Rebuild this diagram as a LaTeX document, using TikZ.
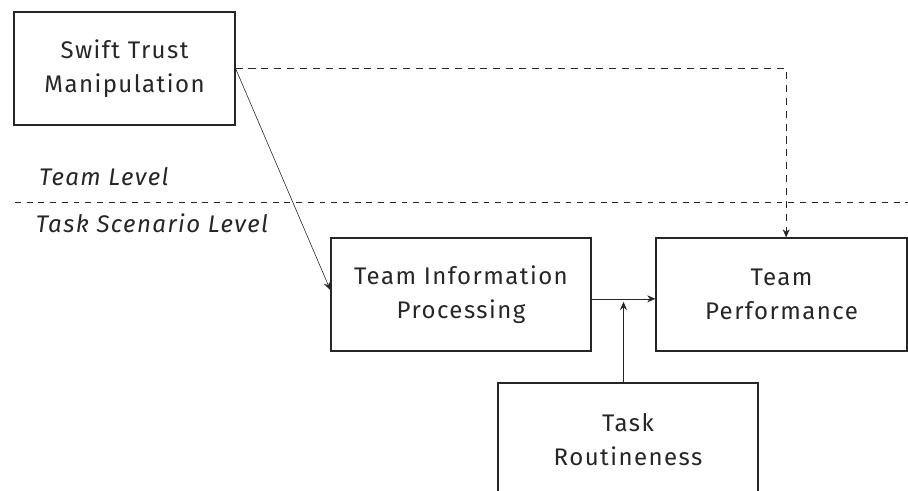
\documentclass[tikz,border=0pt]{standalone}
\usepackage{fontspec}
\setmainfont{Fira Sans}[LetterSpace=6]
\usetikzlibrary{arrows.meta, calc}

\tikzset{
	factor/.style={draw=black!85, line width=1pt, minimum width=\boxW cm, minimum height=\boxH cm, align=center, text=black!85, inner sep=0pt},
	link/.style={draw=black!85, line width=0.5pt, -{Stealth[length=7pt, width=6pt]}},
	level/.style={anchor=west, text=black!85, font=\fontsize{20.5}{29}\selectfont\itshape}
}

\begin{document}
\begin{tikzpicture}[font=\fontsize{20.5}{29}\selectfont]
	% Define box sizes
	\def\boxW{7.8}
	\def\boxH{3.39}

	% Fix the page size
	\useasboundingbox (0,0) rectangle (27.24,14.73);

	% Draw the boxes
	\node[factor, minimum width=6.63cm] (swift) at (3.735,12.675) {Swift Trust\\Manipulation};
	\node[factor] (info) at (13.83,5.895) {Team Information\\Processing};
	\node[factor, minimum width=7.53cm] (perf) at (23.445,5.895) {Team\\Performance};
	\node[factor] (routine) at (18.84,1.545) {Task\\Routineness};

	% Level separator and annotations
	\draw[black!85, line width=0.5pt, dash pattern=on 5pt off 5pt] (0.45,8.67) -- (27.24,8.67);
	\node[level] (teamlvl) at (1.05,9.42) {Team Level};
	\node[level] (tasklvl) at (0.95,8.04) {Task Scenario Level};

	% Direct effect (dashed)
	\draw[link, dash pattern=on 6pt off 5pt] (swift.east) -| ([xshift=0.14cm]perf.north);

	% Swift trust to information processing
	\draw[link] (swift.east) -- ([yshift=0.13cm]info.west);

	% Information processing to performance
	\draw[link] ([yshift=-0.13cm]info.east) -- ([yshift=-0.13cm]perf.west);

	% Moderator joins the path from below
	\coordinate (join) at ($([yshift=-0.22cm]info.east)!0.5!([yshift=-0.22cm]perf.west)$);
	\draw[link] (join |- routine.north) -- (join);
\end{tikzpicture}
\end{document}
